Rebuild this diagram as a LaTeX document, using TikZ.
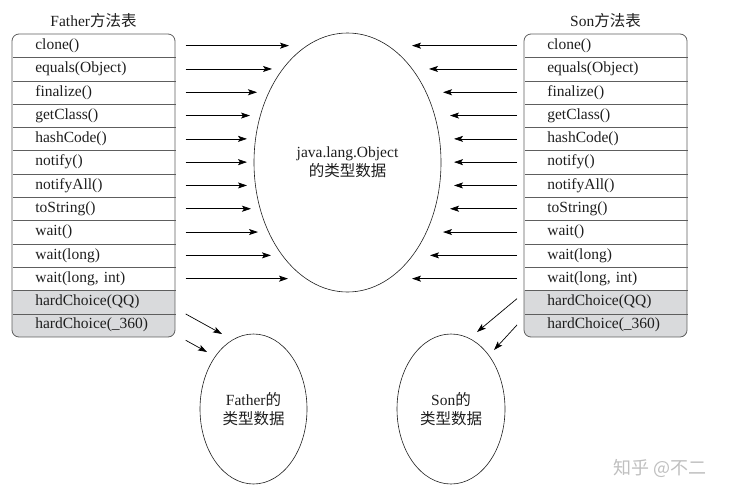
\documentclass[tikz,border=0pt]{standalone}
\usepackage{fontspec}
\setmainfont{Liberation Serif}
\newfontfamily\zhfont{Noto Sans CJK SC}
\usetikzlibrary{positioning,arrows.meta,shapes.geometric}
\definecolor{rulegray}{HTML}{5E5E5E}
\definecolor{hcgray}{HTML}{D9DADC}
\definecolor{ink}{HTML}{1E1E1E}
\tikzset{
  meth/.style={anchor=west,text width=140pt,inner xsep=0pt,inner ysep=0pt,
    minimum height=23.3pt,font=\fontsize{15.5}{18}\selectfont,text=ink},
  title/.style={font=\fontsize{15.5}{18}\selectfont,text=ink},
  frame/.style={draw=rulegray,line width=0.8pt,rounded corners=7pt},
  sep/.style={draw=rulegray,line width=0.8pt},
  blob/.style={draw=ink,line width=0.6pt,ellipse,inner sep=0pt,align=center,
    font=\fontsize{15.5}{19.5}\selectfont,text=ink},
}

\begin{document}
\begin{tikzpicture}[x=1pt,y=-1pt,>={Stealth[length=9pt,width=6pt,inset=2pt]},line width=0.7pt]
    \useasboundingbox (0,0) rectangle (735,498);

    % Father method table
    \draw (93.5,21) node[title] (ftitle) {Father{\zhfont 方法表}};
    \begin{scope}
      \clip[rounded corners=7pt] (12,34) rectangle (175,337);
      \fill[hcgray] (12,290.3) rectangle (175,337);
    \end{scope}
    \draw[frame] (12,34) rectangle (175,337);

    \draw (35,45.65)  node[meth] (f1)  {clone()} ;
    \draw (35,68.95)  node[meth] (f2)  {equals(Object)} ;
    \draw (35,92.25)  node[meth] (f3)  {finalize()} ;
    \draw (35,115.55) node[meth] (f4)  {getClass()} ;
    \draw (35,138.85) node[meth] (f5)  {hashCode()} ;
    \draw (35,162.15) node[meth] (f6)  {notify()} ;
    \draw (35,185.45) node[meth] (f7)  {notifyAll()} ;
    \draw (35,208.75) node[meth] (f8)  {toString()} ;
    \draw (35,232.05) node[meth] (f9)  {wait()} ;
    \draw (35,255.35) node[meth] (f10) {wait(long)} ;
    \draw (35,278.65) node[meth] (f11) {wait(long, int)} ;
    \draw (35,301.95) node[meth] (f12) {hardChoice(QQ)} ;
    \draw (35,325.25) node[meth] (f13) {hardChoice(\_360)} ;

    \draw[sep] (f1.south east) -- ++(-163,0);
    \draw[sep] (f2.south east) -- ++(-163,0);
    \draw[sep] (f3.south east) -- ++(-163,0);
    \draw[sep] (f4.south east) -- ++(-163,0);
    \draw[sep] (f5.south east) -- ++(-163,0);
    \draw[sep] (f6.south east) -- ++(-163,0);
    \draw[sep] (f7.south east) -- ++(-163,0);
    \draw[sep] (f8.south east) -- ++(-163,0);
    \draw[sep] (f9.south east) -- ++(-163,0);
    \draw[sep] (f10.south east) -- ++(-163,0);
    \draw[sep] (f11.south east) -- ++(-163,0);
    \draw[sep] (f12.south east) -- ++(-163,0);

    % Son method table
    \draw (605.5,21) node[title] (stitle) {Son{\zhfont 方法表}};
    \begin{scope}
      \clip[rounded corners=7pt] (524,34) rectangle (687,337);
      \fill[hcgray] (524,290.3) rectangle (687,337);
    \end{scope}
    \draw[frame] (524,34) rectangle (687,337);

    \draw (547,45.65)  node[meth] (s1)  {clone()} ;
    \draw (547,68.95)  node[meth] (s2)  {equals(Object)} ;
    \draw (547,92.25)  node[meth] (s3)  {finalize()} ;
    \draw (547,115.55) node[meth] (s4)  {getClass()} ;
    \draw (547,138.85) node[meth] (s5)  {hashCode()} ;
    \draw (547,162.15) node[meth] (s6)  {notify()} ;
    \draw (547,185.45) node[meth] (s7)  {notifyAll()} ;
    \draw (547,208.75) node[meth] (s8)  {toString()} ;
    \draw (547,232.05) node[meth] (s9)  {wait()} ;
    \draw (547,255.35) node[meth] (s10) {wait(long)} ;
    \draw (547,278.65) node[meth] (s11) {wait(long, int)} ;
    \draw (547,301.95) node[meth] (s12) {hardChoice(QQ)} ;
    \draw (547,325.25) node[meth] (s13) {hardChoice(\_360)} ;

    \draw[sep] (s1.south east) -- ++(-163,0);
    \draw[sep] (s2.south east) -- ++(-163,0);
    \draw[sep] (s3.south east) -- ++(-163,0);
    \draw[sep] (s4.south east) -- ++(-163,0);
    \draw[sep] (s5.south east) -- ++(-163,0);
    \draw[sep] (s6.south east) -- ++(-163,0);
    \draw[sep] (s7.south east) -- ++(-163,0);
    \draw[sep] (s8.south east) -- ++(-163,0);
    \draw[sep] (s9.south east) -- ++(-163,0);
    \draw[sep] (s10.south east) -- ++(-163,0);
    \draw[sep] (s11.south east) -- ++(-163,0);
    \draw[sep] (s12.south east) -- ++(-163,0);

    % type data
    \draw (347.5,162.5) node[blob,minimum width=187pt,minimum height=259pt] (obj)
      {java.lang.Object\\{\zhfont 的类型数据}} ;
    \draw (253.5,409) node[blob,minimum width=107pt,minimum height=150pt] (fdata)
      {Father{\zhfont 的}\\{\zhfont 类型数据}} ;
    \draw (451,409) node[blob,minimum width=108pt,minimum height=150pt] (sdata)
      {Son{\zhfont 的}\\{\zhfont 类型数据}} ;

    % arrow ends
    \coordinate (l1) at (289,45.65);  \coordinate (r1) at (412,45.65);
    \coordinate (l2) at (272,68.95);  \coordinate (r2) at (429,68.95);
    \coordinate (l3) at (257,92.25);  \coordinate (r3) at (443,92.25);
    \coordinate (l4) at (250,115.55); \coordinate (r4) at (450,115.55);
    \coordinate (l5) at (247,138.85); \coordinate (r5) at (454,138.85);
    \coordinate (l6) at (247,162.15); \coordinate (r6) at (454,162.15);
    \coordinate (l7) at (247,185.45); \coordinate (r7) at (454,185.45);
    \coordinate (l8) at (251,208.75); \coordinate (r8) at (450,208.75);
    \coordinate (l9) at (258,232.05); \coordinate (r9) at (443,232.05);
    \coordinate (l10) at (271,255.35); \coordinate (r10) at (430,255.35);
    \coordinate (l11) at (288,278.65); \coordinate (r11) at (412,278.65);
    \coordinate (fb1) at (222,334); \coordinate (fb2) at (207,352);
    \coordinate (sb1) at (477,332); \coordinate (sb2) at (494,350);

    \draw[->] ([xshift=10pt]f1.east)  -- (l1);
    \draw[->] ([xshift=10pt]f2.east)  -- (l2);
    \draw[->] ([xshift=10pt]f3.east)  -- (l3);
    \draw[->] ([xshift=10pt]f4.east)  -- (l4);
    \draw[->] ([xshift=10pt]f5.east)  -- (l5);
    \draw[->] ([xshift=10pt]f6.east)  -- (l6);
    \draw[->] ([xshift=10pt]f7.east)  -- (l7);
    \draw[->] ([xshift=10pt]f8.east)  -- (l8);
    \draw[->] ([xshift=10pt]f9.east)  -- (l9);
    \draw[->] ([xshift=10pt]f10.east) -- (l10);
    \draw[->] ([xshift=10pt]f11.east) -- (l11);
    \draw[->] ([xshift=10pt]f12.south east) -- (fb1);
    \draw[->] ([shift={(10pt,-3pt)}]f13.south east) -- (fb2);

    \draw[->] ([xshift=-30pt]s1.west)  -- (r1);
    \draw[->] ([xshift=-30pt]s2.west)  -- (r2);
    \draw[->] ([xshift=-30pt]s3.west)  -- (r3);
    \draw[->] ([xshift=-30pt]s4.west)  -- (r4);
    \draw[->] ([xshift=-30pt]s5.west)  -- (r5);
    \draw[->] ([xshift=-30pt]s6.west)  -- (r6);
    \draw[->] ([xshift=-30pt]s7.west)  -- (r7);
    \draw[->] ([xshift=-30pt]s8.west)  -- (r8);
    \draw[->] ([xshift=-30pt]s9.west)  -- (r9);
    \draw[->] ([xshift=-30pt]s10.west) -- (r10);
    \draw[->] ([xshift=-30pt]s11.west) -- (r11);
    \draw[->] ([shift={(-30pt,-8pt)}]s11.south west) -- (sb1);
    \draw[->] ([shift={(-30pt,-11pt)}]s12.south west) -- (sb2);

    \draw (660,468) node[text=gray!50,font=\zhfont\fontsize{18}{20}\selectfont] (wm) {知乎 @不二};
  \end{tikzpicture}
\end{document}
